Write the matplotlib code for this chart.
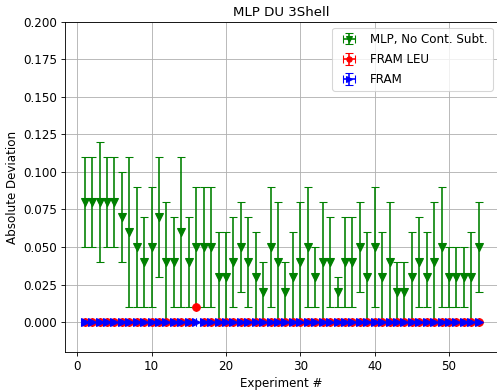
import numpy as np
import matplotlib
matplotlib.use("Agg")
import matplotlib.pyplot as plt

experiments = list(range(1, 55))

mlp_values = [0.08, 0.08, 0.08, 0.08, 0.08, 0.07, 0.06, 0.05, 0.04, 0.05,
              0.07, 0.04, 0.04, 0.06, 0.04, 0.05, 0.05, 0.05, 0.03, 0.03,
              0.04, 0.05, 0.04, 0.03, 0.02, 0.05, 0.04, 0.02, 0.03, 0.04,
              0.05, 0.03, 0.04, 0.04, 0.02, 0.04, 0.04, 0.05, 0.03, 0.05,
              0.03, 0.04, 0.02, 0.02, 0.03, 0.04, 0.03, 0.04, 0.05, 0.03,
              0.03, 0.03, 0.03, 0.05]
mlp_err_lo = [0.03, 0.03, 0.04, 0.03, 0.03, 0.03, 0.05, 0.04, 0.03, 0.04,
              0.04, 0.04, 0.03, 0.05, 0.03, 0.04, 0.04, 0.04, 0.03, 0.03,
              0.03, 0.03, 0.03, 0.03, 0.02, 0.04, 0.04, 0.02, 0.03, 0.04,
              0.04, 0.02, 0.04, 0.03, 0.01, 0.03, 0.03, 0.03, 0.03, 0.04,
              0.03, 0.04, 0.02, 0.02, 0.03, 0.03, 0.02, 0.04, 0.04, 0.02,
              0.02, 0.02, 0.03, 0.03]
mlp_err_hi = [0.03, 0.03, 0.04, 0.03, 0.03, 0.03, 0.05, 0.04, 0.03, 0.04,
              0.04, 0.04, 0.03, 0.05, 0.03, 0.04, 0.04, 0.04, 0.03, 0.03,
              0.03, 0.03, 0.03, 0.03, 0.02, 0.04, 0.04, 0.02, 0.03, 0.04,
              0.04, 0.02, 0.04, 0.03, 0.01, 0.03, 0.03, 0.03, 0.03, 0.04,
              0.03, 0.04, 0.02, 0.02, 0.03, 0.03, 0.03, 0.04, 0.04, 0.02,
              0.02, 0.02, 0.03, 0.03]

fram_leu_values = [0.0] * 54
fram_leu_values[15] = 0.01
fram_values = [0.0] * 54
zero_err = [0.0] * 54

plt.rcParams['font.size'] = 11

DPI = 77.66
fig, ax = plt.subplots(figsize=(497 / DPI, 390 / DPI), dpi=DPI)

ax.errorbar(experiments, mlp_values, yerr=[mlp_err_lo, mlp_err_hi], xerr=zero_err,
            fmt='v', color='green', ecolor='green', capsize=3.5, markersize=7,
            label='MLP, No Cont. Subt.')
ax.errorbar(experiments, fram_leu_values, yerr=zero_err, xerr=zero_err,
            fmt='o', color='red', ecolor='red', capsize=3.5, markersize=7,
            label='FRAM LEU')
ax.errorbar(experiments, fram_values, yerr=zero_err, xerr=zero_err,
            fmt='>', color='blue', ecolor='blue', capsize=3.5, markersize=7,
            label='FRAM')

ax.set_ylim(-0.02, 0.2)
ax.set_yticks(np.arange(0, 0.201, 0.025))
ax.yaxis.set_major_formatter(matplotlib.ticker.FormatStrFormatter('%.3f'))
ax.grid(True)
ax.set_title('MLP DU 3Shell', fontsize=12.4)
ax.set_xlabel('Experiment #')
ax.set_ylabel('Absolute Deviation')
ax.legend(loc='upper right', labelspacing=0.6, markerscale=0.7)

fig.subplots_adjust(left=65 / 497, right=1.003, top=1 - 22 / 390, bottom=1 - 352 / 390)
fig.savefig('out.png', dpi=DPI)
